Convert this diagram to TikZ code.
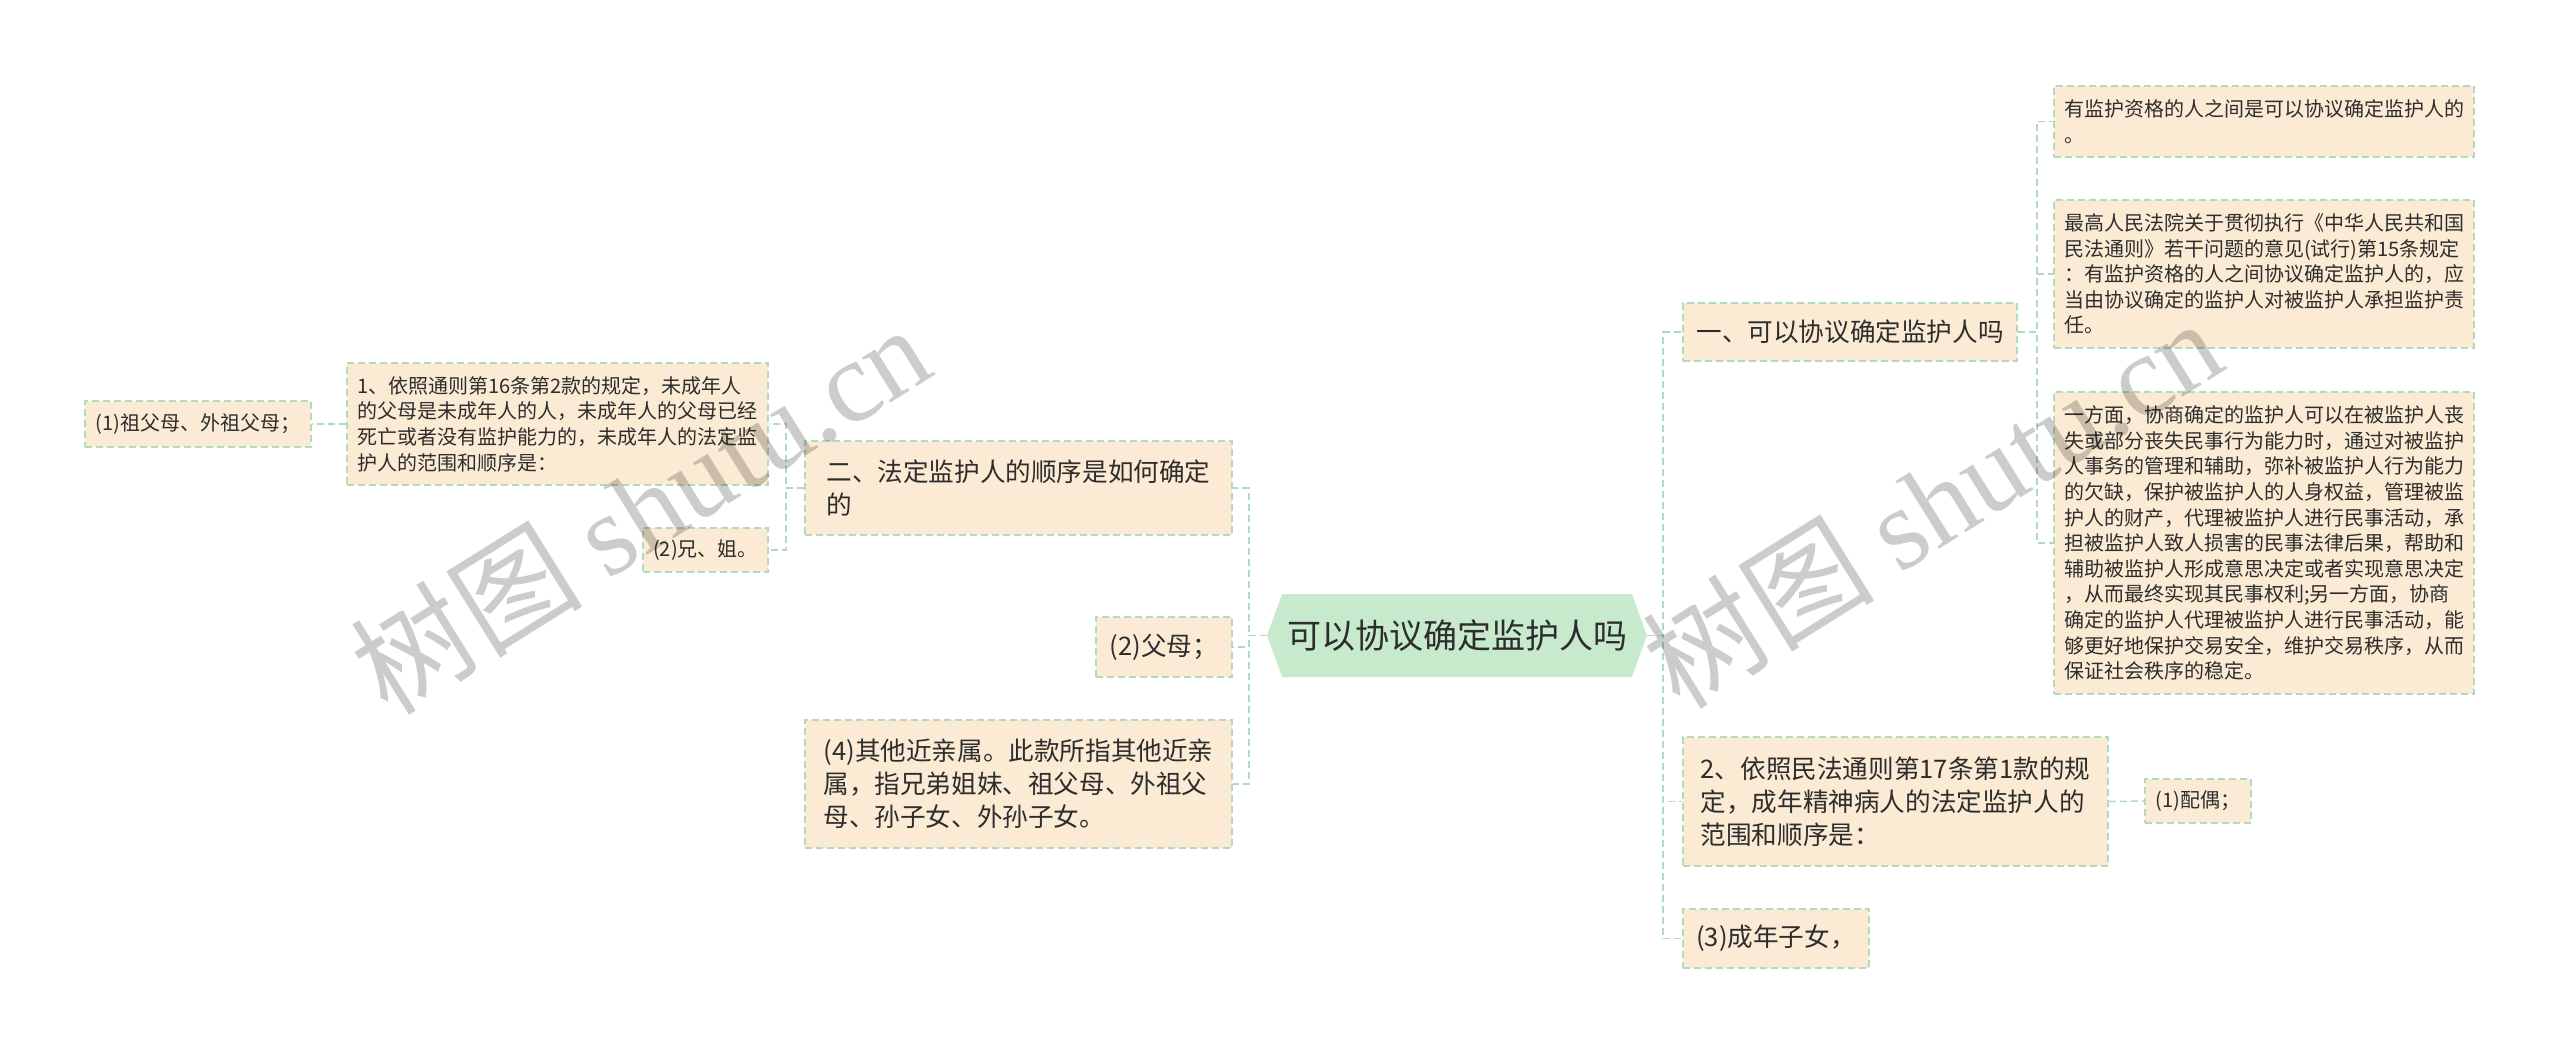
\documentclass[tikz,border=0pt]{standalone}
\usepackage{fontspec}
\newfontfamily\cjk{Noto Sans CJK SC}
\newfontfamily\wmserif{Liberation Serif}
\usetikzlibrary{shapes.symbols}
\definecolor{peach}{RGB}{252,235,212}
\definecolor{mint}{RGB}{199,234,205}
\definecolor{edge}{RGB}{176,220,189}
\definecolor{ink}{RGB}{45,45,45}

\begin{document}
\begin{tikzpicture}[x=1pt,y=-1pt,font=\cjk,text=ink,
  box/.style={draw=edge,line width=1.6pt,dash pattern=on 7pt off 4pt,fill=peach,inner sep=0pt,align=left},
  sz/.style 2 args={minimum width=#1pt,minimum height=#2pt},
  big/.style={box,font=\cjk\fontsize{25.6}{33}\selectfont},
  small/.style={box,font=\cjk\fontsize{20}{25.6}\selectfont},
  tiny/.style={box,font=\cjk\fontsize{20}{24}\selectfont},
  link/.style={draw=edge,line width=1.5pt,dash pattern=on 7pt off 4pt},
  watermark/.style={rotate=32,text=black,opacity=0.2,font=\cjk\fontsize{116}{120}\selectfont}]
\useasboundingbox (0,0) rectangle (2560,1055);

\node[shape=signal,signal to=east and west,signal pointer angle=140,fill=mint,inner sep=0pt,
  sz={380}{83},font=\cjk\fontsize{34}{40}\selectfont] (root) at (1457,635.5) {可以协议确定监护人吗};

\node[big,sz={334}{58}] (q1) at (1850,332) {一、可以协议确定监护人吗};
\node[small,sz={420}{71}] (q1a) at (2264,121.5)
  {有监护资格的人之间是可以协议确定监护人的\\。};
\node[small,sz={420}{148}] (q1b) at (2264,274)
  {最高人民法院关于贯彻执行《中华人民共和国\\民法通则》若干问题的意见(试行)第15条规定\\：有监护资格的人之间协议确定监护人的，应\\当由协议确定的监护人对被监护人承担监护责\\任。};
\node[small,sz={420}{302}] (q1c) at (2264,543)
  {一方面，协商确定的监护人可以在被监护人丧\\失或部分丧失民事行为能力时，通过对被监护\\人事务的管理和辅助，弥补被监护人行为能力\\的欠缺，保护被监护人的人身权益，管理被监\\护人的财产，代理被监护人进行民事活动，承\\担被监护人致人损害的民事法律后果，帮助和\\辅助被监护人形成意思决定或者实现意思决定\\，从而最终实现其民事权利;另一方面，协商\\确定的监护人代理被监护人进行民事活动，能\\够更好地保护交易安全，维护交易秩序，从而\\保证社会秩序的稳定。};
\node[big,sz={425}{129}] (adult) at (1895.5,801.5)
  {2、依照民法通则第17条第1款的规\\定，成年精神病人的法定监护人的\\范围和顺序是：};
\node[tiny,sz={106}{44}] (spouse) at (2198,801) {(1)配偶；};
\node[big,sz={186}{59}] (children) at (1776,938.5) {(3)成年子女，};

\node[big,sz={427}{94}] (order) at (1018.5,488) {二、法定监护人的顺序是如何确定\\的};
\node[big,sz={136}{60}] (parents) at (1164,647) {(2)父母；};
\node[big,sz={427}{128}] (relatives) at (1018.5,784)
  {(4)其他近亲属。此款所指其他近亲\\属，指兄弟姐妹、祖父母、外祖父\\母、孙子女、外孙子女。};
\node[small,sz={421}{122}] (minor) at (557.5,424)
  {1、依照通则第16条第2款的规定，未成年人\\的父母是未成年人的人，未成年人的父母已经\\死亡或者没有监护能力的，未成年人的法定监\\护人的范围和顺序是：};
\node[tiny,sz={226}{46}] (grand) at (198,424) {(1)祖父母、外祖父母；};
\node[tiny,sz={125}{44}] (sibling) at (705.5,550) {(2)兄、姐。};

\foreach \n in {q1,adult,children}
  \draw[link] (root.east) -- ++(16,0) |- (\n.west);
\foreach \n in {order,parents,relatives}
  \draw[link] (root.west) -- ++(-18,0) |- (\n.east);
\foreach \n in {q1a,q1b,q1c}
  \draw[link] (q1.east) -- ++(19,0) |- (\n.west);
\foreach \n in {minor,sibling}
  \draw[link] (order.west) -- ++(-18,0) |- (\n.east);
\draw[link] (adult.east) -- (spouse.west);
\draw[link] (minor.west) -- (grand.east);

\node[watermark] (markleft) at (640,508) {树图 {\wmserif shutu.cn}};
\node[watermark] (markright) at (1932,502) {树图 {\wmserif shutu.cn}};
\end{tikzpicture}
\end{document}
